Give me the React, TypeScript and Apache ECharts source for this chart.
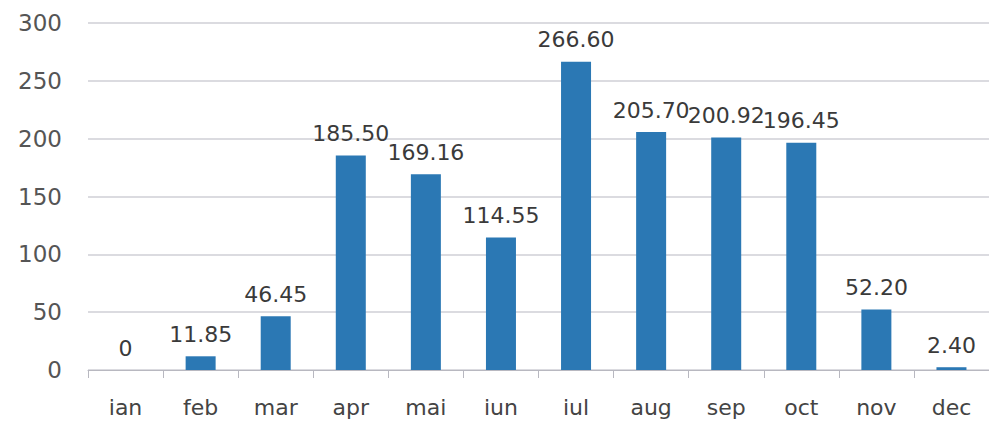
import React, { useEffect, useRef } from "react";
import * as echarts from "echarts";

const categories = ["ian", "feb", "mar", "apr", "mai", "iun", "iul", "aug", "sep", "oct", "nov", "dec"];
const values = [0, 11.85, 46.45, 185.5, 169.16, 114.55, 266.6, 205.7, 200.92, 196.45, 52.2, 2.4];
const yTicks = { min: 0, max: 300, interval: 50 };

export default function App() {
  const ref = useRef<HTMLDivElement>(null);
  useEffect(() => {
    if (!ref.current) return;
    const chart = echarts.init(ref.current, undefined, { renderer: "svg" });
    chart.setOption({
      animation: false,
      backgroundColor: "#ffffff",
      grid: { left: 88, right: -4, top: 23, bottom: 57, containLabel: false },
      xAxis: {
        type: "category",
        data: categories,
        axisLine: { show: true, lineStyle: { color: "#b8b8c0", width: 1 } },
        axisTick: { show: true, length: 8, lineStyle: { color: "#b8b8c0" } },
        axisLabel: { color: "#444", fontSize: 22, fontFamily: "DejaVu Sans", margin: 26 },
      },
      yAxis: {
        type: "value",
        min: yTicks.min,
        max: yTicks.max,
        interval: yTicks.interval,
        axisLine: { show: false },
        axisTick: { show: false },
        axisLabel: { color: "#555", fontSize: 23, fontFamily: "DejaVu Sans", margin: 26 },
        splitLine: { lineStyle: { color: "#cfcfd6", width: 1.5 } },
      },
      series: [
        {
          type: "bar",
          data: values,
          barWidth: 30,
          itemStyle: { color: "#2b78b4" },
          label: {
            show: true,
            position: "top",
            distance: 11,
            color: "#3a3a3a",
            fontSize: 22,
            fontFamily: "DejaVu Sans",
            formatter: (p: any) => (p.value === 0 ? "0" : Number(p.value).toFixed(2)),
          },
        },
      ],
    });
    return () => chart.dispose();
  }, []);
  return <div ref={ref} style={{ width: 989, height: 427, position: "absolute", left: 0, top: 0 }} />;
}
